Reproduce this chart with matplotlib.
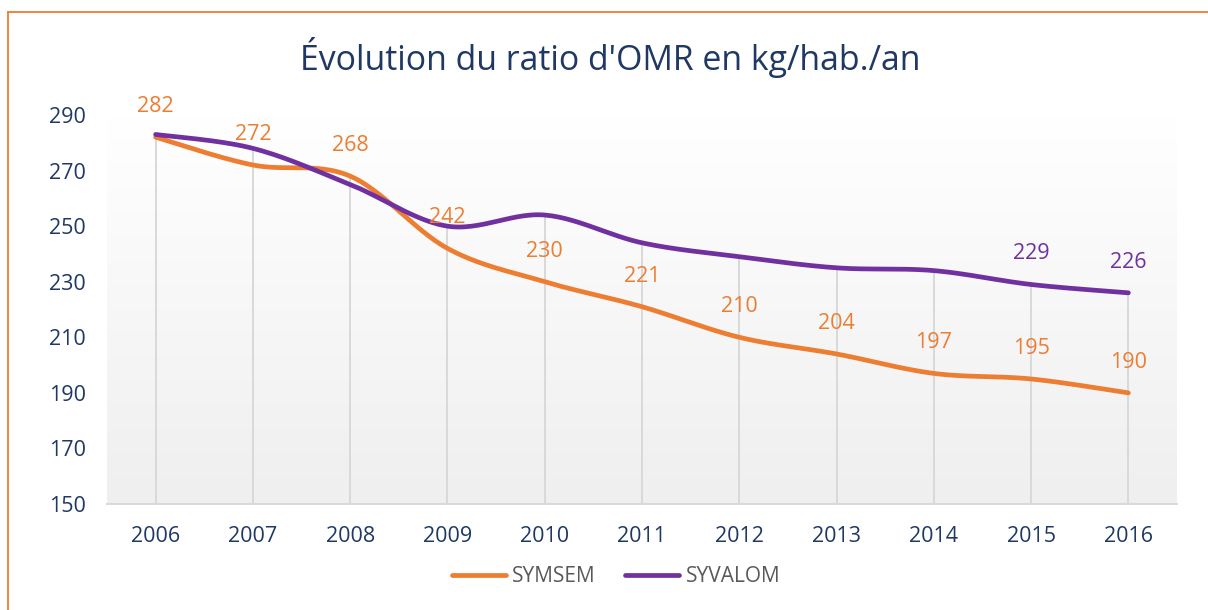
import numpy as np
import matplotlib
matplotlib.use("Agg")
import matplotlib.pyplot as plt
from matplotlib.lines import Line2D

years = ["2006", "2007", "2008", "2009", "2010", "2011", "2012", "2013", "2014", "2015", "2016"]
symsem = [282, 272, 268, 242, 230, 221, 210, 204, 197, 195, 190]
syvalom = [283, 278, 265, 250, 254, 244, 239, 235, 234, 229, 226]
syvalom_labels = {"2015": 229, "2016": 226}
y_ticks = [150, 170, 190, 210, 230, 250, 270, 290]
title = "Évolution du ratio d'OMR en kg/hab./an"

ORANGE = "#ED7D31"
PURPLE = "#7030A0"
NAVY = "#1F3864"
FONT = ["Open Sans", "DejaVu Sans"]

plt.rcParams["font.family"] = FONT


def smooth(xs, ys, n=30):
    """Excel-like smoothing: cubic Bezier with Catmull-Rom control points."""
    P = np.column_stack([xs, ys]).astype(float)
    ext = np.vstack([P[0], P, P[-1]])
    out = []
    t = np.linspace(0, 1, n)[:, None]
    for i in range(len(P) - 1):
        p0, p1, p2, p3 = ext[i], ext[i + 1], ext[i + 2], ext[i + 3]
        c1 = p1 + (p2 - p0) / 6.0
        c2 = p2 - (p3 - p1) / 6.0
        seg = ((1 - t) ** 3) * p1 + 3 * ((1 - t) ** 2) * t * c1 + 3 * (1 - t) * t ** 2 * c2 + t ** 3 * p2
        out.append(seg if i == 0 else seg[1:])
    seg = np.vstack(out)
    return seg[:, 0], seg[:, 1]


fig = plt.figure(figsize=(12.08, 6.10), dpi=100)
fig.patch.set_facecolor("white")
ax = fig.add_axes([107 / 1208, 1 - 504 / 610, (1177 - 107) / 1208, (504 - 115) / 610])
ax.set_facecolor("none")

x = np.arange(len(years))
ax.set_xlim(-0.5, len(years) - 0.5)
ax.set_ylim(150, 290)

# gradient background
grad = np.linspace(1.0, 0.0, 256)[:, None]
top = np.array([1.0, 1.0, 1.0])
bot = np.array([0.937, 0.937, 0.937])
img = top[None, None, :] * grad[:, :, None] + bot[None, None, :] * (1 - grad[:, :, None])
ax.imshow(img, extent=[0, 1, 0, 1], transform=ax.transAxes, aspect="auto", zorder=0)

# drop lines
tops = np.maximum(symsem, syvalom)
ax.vlines(x, 150, tops, color="#d9d9d9", lw=1.4, zorder=1)

sx, sy = smooth(x, symsem)
ax.plot(sx, sy, color=ORANGE, lw=3.4, solid_capstyle="round", zorder=3)
px, py = smooth(x, syvalom)
ax.plot(px, py, color=PURPLE, lw=3.4, solid_capstyle="round", zorder=4)

for xi, v in zip(x, symsem):
    ax.annotate(str(v), (xi, v), xytext=(0, 22), textcoords="offset points",
                ha="center", va="center", color=ORANGE, fontsize=15.5, clip_on=False, zorder=5)
for yr, v in syvalom_labels.items():
    xi = years.index(yr)
    ax.annotate(str(v), (xi, v), xytext=(0, 22), textcoords="offset points",
                ha="center", va="center", color=PURPLE, fontsize=15.5, clip_on=False, zorder=5)

ax.set_xticks(x)
ax.set_xticklabels(years)
ax.set_yticks(y_ticks)
ax.tick_params(axis="both", length=0, labelsize=15.5, labelcolor=NAVY)
ax.tick_params(axis="x", pad=16)
ax.tick_params(axis="y", pad=15)
for s in ["top", "right", "left"]:
    ax.spines[s].set_visible(False)
ax.spines["bottom"].set_color("#d9d9d9")
ax.spines["bottom"].set_linewidth(1.4)

fig.text(0.505, 1 - 57 / 610, title, ha="center", va="center", color=NAVY, fontsize=24.4)

handles = [Line2D([0], [0], color=ORANGE, lw=3.4, solid_capstyle="round"),
           Line2D([0], [0], color=PURPLE, lw=3.4, solid_capstyle="round")]
leg = fig.legend(handles, ["SYMSEM", "SYVALOM"], loc="center", bbox_to_anchor=(0.51, 1 - 577 / 610),
                 ncol=2, frameon=False, fontsize=15, handlelength=2.6, columnspacing=1.4,
                 handletextpad=0.3)
for t in leg.get_texts():
    t.set_color("#595959")

# orange frame (top and left edges)
fig.add_artist(Line2D([8 / 1208, 1.0], [1 - 12 / 610, 1 - 12 / 610], transform=fig.transFigure,
                      color=ORANGE, lw=1.3))
fig.add_artist(Line2D([8 / 1208, 8 / 1208], [0.0, 1 - 12 / 610], transform=fig.transFigure,
                      color=ORANGE, lw=1.3))

fig.savefig("out.png", dpi=100, facecolor="white")
